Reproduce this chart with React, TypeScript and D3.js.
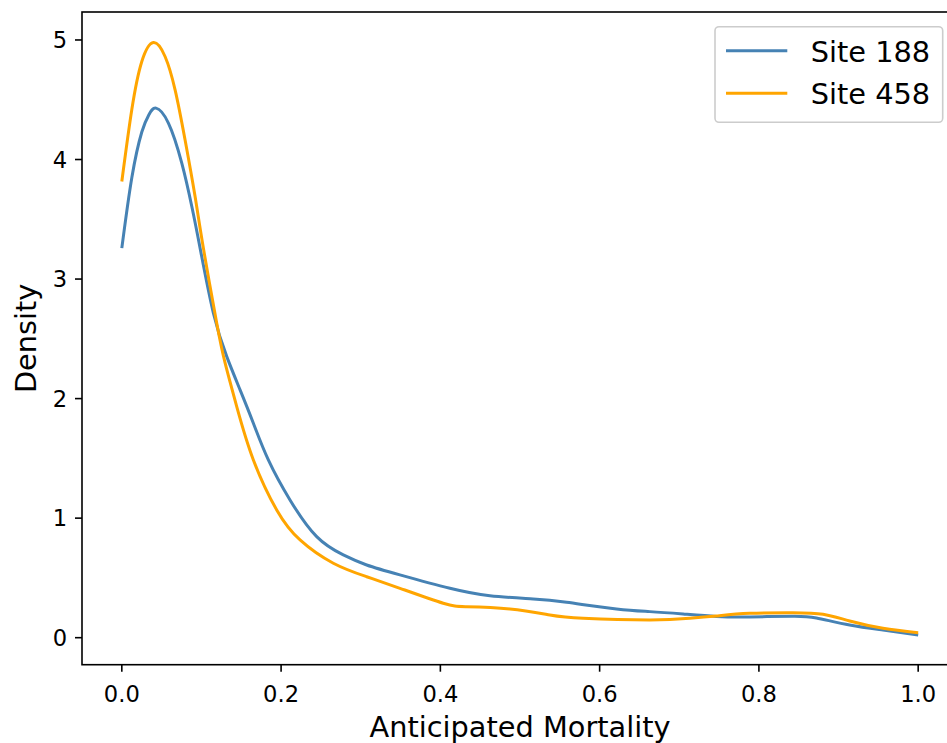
import React from "react";
import * as d3 from "d3";

// ---- Data ----
const site188X = [0, 0.0126, 0.0251, 0.034, 0.043, 0.0585, 0.0753, 0.0879, 0.0983, 0.115, 0.1318, 0.1485, 0.1652, 0.184, 0.2112, 0.2447, 0.2781, 0.3075, 0.3492, 0.412, 0.4622, 0.5166, 0.5585, 0.6212, 0.663, 0.7048, 0.7467, 0.7885, 0.8429, 0.8722, 0.914, 0.9558, 1.0];
const site188Y = [3.259, 3.85, 4.23, 4.375, 4.43, 4.305, 3.97, 3.607, 3.259, 2.715, 2.351, 2.073, 1.794, 1.487, 1.152, 0.845, 0.692, 0.608, 0.525, 0.413, 0.351, 0.324, 0.296, 0.24, 0.218, 0.198, 0.178, 0.174, 0.18, 0.165, 0.106, 0.064, 0.023];

const site458X = [0, 0.0126, 0.0251, 0.0397, 0.0543, 0.0669, 0.0794, 0.092, 0.1024, 0.1192, 0.1296, 0.1443, 0.1652, 0.1945, 0.2238, 0.2656, 0.3075, 0.3493, 0.4036, 0.433, 0.4873, 0.5375, 0.5793, 0.663, 0.7132, 0.7467, 0.7885, 0.8429, 0.8805, 0.914, 0.9558, 1.0];
const site458Y = [3.816, 4.42, 4.82, 4.979, 4.862, 4.583, 4.165, 3.69, 3.259, 2.63, 2.3, 1.933, 1.487, 1.069, 0.818, 0.623, 0.51, 0.413, 0.288, 0.259, 0.24, 0.19, 0.162, 0.148, 0.162, 0.182, 0.204, 0.209, 0.196, 0.14, 0.079, 0.042];

const seriesNames = ["Site 188", "Site 458"];
const seriesColors = ["#4682b4", "#ffa500"];
const xTicks = [0, 0.2, 0.4, 0.6, 0.8, 1.0];
const yTicks = [0, 1, 2, 3, 4, 5];
const xLabel = "Anticipated Mortality";
const yLabel = "Density";

const W = 947;
const H = 743;
const FONT = "DejaVu Sans, sans-serif";

export default function App() {
  const left = 82, right = 958, top = 12, bottom = 664.7;
  const x = d3.scaleLinear().domain([-0.05, 1.05]).range([left, right]);
  const y = d3.scaleLinear().domain([-0.226, 5.234]).range([bottom, top]);

  const line = d3
    .line<[number, number]>()
    .x((d) => x(d[0]))
    .y((d) => y(d[1]))
    .curve(d3.curveNatural);

  const s1 = site188X.map((v, i) => [v, site188Y[i]] as [number, number]);
  const s2 = site458X.map((v, i) => [v, site458Y[i]] as [number, number]);
  const series = [s1, s2];

  const tickLen = 7;
  const lw = 1.6;

  return (
    <div style={{ position: "fixed", left: 0, top: 0, width: W, height: H, background: "#fff" }}>
      <svg width={W} height={H} style={{ display: "block" }} fontFamily={FONT}>
        <rect x={0} y={0} width={W} height={H} fill="#fff" />
        {series.map((s, i) => (
          <path
            key={i}
            d={line(s) || ""}
            fill="none"
            stroke={seriesColors[i]}
            strokeWidth={3}
            strokeLinejoin="round"
          />
        ))}
        {/* spines */}
        <rect x={left} y={top} width={right - left} height={bottom - top} fill="none" stroke="#000" strokeWidth={lw} />
        {/* x ticks */}
        {xTicks.map((t) => (
          <g key={"x" + t}>
            <line x1={x(t)} x2={x(t)} y1={bottom} y2={bottom + tickLen} stroke="#000" strokeWidth={lw} />
            <text x={x(t)} y={701.5} textAnchor="middle" fontSize={22.6} fill="#000">
              {d3.format(".1f")(t)}
            </text>
          </g>
        ))}
        {/* y ticks */}
        {yTicks.map((t) => (
          <g key={"y" + t}>
            <line x1={left - tickLen} x2={left} y1={y(t)} y2={y(t)} stroke="#000" strokeWidth={lw} />
            <text x={67} y={y(t)} dy="0.36em" textAnchor="end" fontSize={22.6} fill="#000">
              {String(t)}
            </text>
          </g>
        ))}
        <text x={(left + right) / 2} y={737} textAnchor="middle" fontSize={28.8} fill="#000">
          {xLabel}
        </text>
        <text
          transform={`translate(35.5, ${(top + bottom) / 2}) rotate(-90)`}
          textAnchor="middle"
          fontSize={28.8}
          fill="#000"
        >
          {yLabel}
        </text>
        {/* legend */}
        <rect x={715} y={26.7} width={227.7} height={95.6} rx={4} fill="#fff" fillOpacity={0.8} stroke="#cccccc" strokeWidth={1.6} />
        {seriesNames.map((n, i) => (
          <g key={n}>
            <line x1={726} x2={787.3} y1={50.7 + i * 42.6} y2={50.7 + i * 42.6} stroke={seriesColors[i]} strokeWidth={3} />
            <text x={810.7} y={61.5 + i * 42.6} fontSize={28.8} fill="#000">
              {n}
            </text>
          </g>
        ))}
      </svg>
    </div>
  );
}
